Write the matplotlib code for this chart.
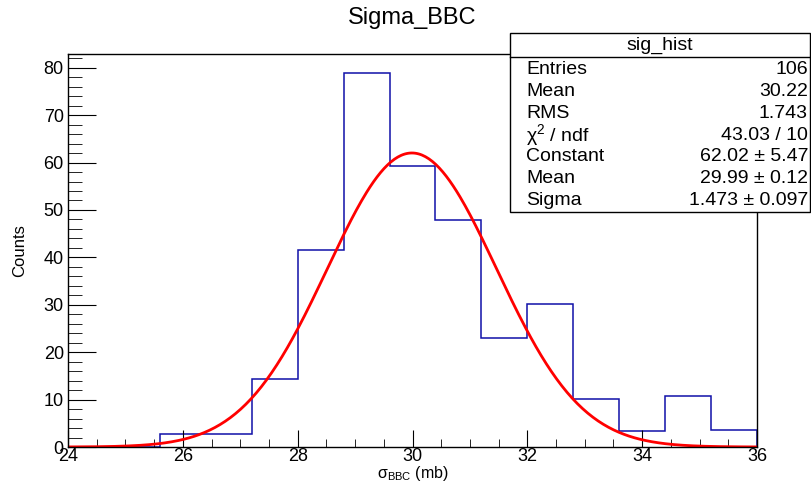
import numpy as np
import matplotlib.pyplot as plt
from matplotlib.patches import Rectangle
from matplotlib.ticker import MultipleLocator

plt.rcParams['font.family'] = ['Liberation Sans', 'DejaVu Sans']
plt.rcParams['mathtext.fontset'] = 'custom'
plt.rcParams['mathtext.rm'] = 'Liberation Sans'
plt.rcParams['mathtext.it'] = 'Liberation Sans'

# histogram contents (bin width 0.8 from 24 to 36)
bin_edges = [24.0, 24.8, 25.6, 26.4, 27.2, 28.0, 28.8, 29.6, 30.4,
             31.2, 32.0, 32.8, 33.6, 34.4, 35.2, 36.0]
counts = [0, 0, 2.7, 2.7, 14.4, 41.6, 78.9, 59.3, 47.9,
          22.9, 30.2, 10.2, 3.4, 10.8, 3.6]

# gaussian fit parameters
fit_const = 62.02
fit_mean = 29.99
fit_sigma = 1.473

stats_labels = ['Entries', 'Mean', 'RMS', 'χ$^{2}$ / ndf', 'Constant', 'Mean', 'Sigma']
stats_values = ['106', '30.22', '1.743', '43.03 / 10',
                '62.02 ± 5.47', '29.99 ± 0.12', '1.473 ± 0.097']

W, H = 811, 484
fig = plt.figure(figsize=(W / 100, H / 100), dpi=100)
ax = fig.add_axes([68 / W, 1 - 447 / H, (757 - 68) / W, (447 - 54) / H])

ax.stairs(counts, bin_edges, color='#1010a8', linewidth=1.1)
xs = np.linspace(24, 36, 400)
ax.plot(xs, fit_const * np.exp(-0.5 * ((xs - fit_mean) / fit_sigma) ** 2),
        color='#ff0000', linewidth=2)

ax.set_xlim(24, 36)
ax.set_ylim(0, 82.9)
ax.xaxis.set_major_locator(MultipleLocator(2))
ax.xaxis.set_minor_locator(MultipleLocator(0.5))
ax.yaxis.set_major_locator(MultipleLocator(10))
ax.yaxis.set_minor_locator(MultipleLocator(2))
ax.tick_params(axis='x', which='major', direction='in', length=12, labelsize=13, pad=1)
ax.tick_params(axis='x', which='minor', direction='in', length=6)
ax.tick_params(axis='y', which='major', direction='in', length=20, labelsize=13, pad=3)
ax.tick_params(axis='y', which='minor', direction='in', length=10)
for s in ax.spines.values():
    s.set_linewidth(1.0)

ax.set_xlabel('σ$_{\\rm BBC}$ (mb)', fontsize=11.5, labelpad=-1)
ax.set_ylabel('Counts', fontsize=12, labelpad=12)

fig.text(412 / W, 1 - 18 / H, 'Sigma_BBC', ha='center', va='center', fontsize=17)

# stats box
bx0, bx1, by0, by1 = 510, 810, 33, 212
fig.patches.append(Rectangle((bx0 / W, 1 - by1 / H), (bx1 - bx0) / W, (by1 - by0) / H,
                             transform=fig.transFigure, facecolor='white',
                             edgecolor='black', linewidth=1.0, zorder=5))
fig.add_artist(plt.Line2D([bx0 / W, bx1 / W], [1 - 57 / H, 1 - 57 / H],
                          transform=fig.transFigure, color='black', linewidth=1.0, zorder=6))
fig.text((bx0 + bx1) / 2 / W, 1 - 45 / H, 'sig_hist', ha='center', va='center',
         fontsize=14, zorder=7)
for i, (lab, val) in enumerate(zip(stats_labels, stats_values)):
    y = 1 - (70 + i * 21.7) / H
    fig.text(526 / W, y, lab, ha='left', va='center', fontsize=14, zorder=7)
    fig.text(808 / W, y, val, ha='right', va='center', fontsize=14, zorder=7)

fig.savefig('out.png', dpi=100)
